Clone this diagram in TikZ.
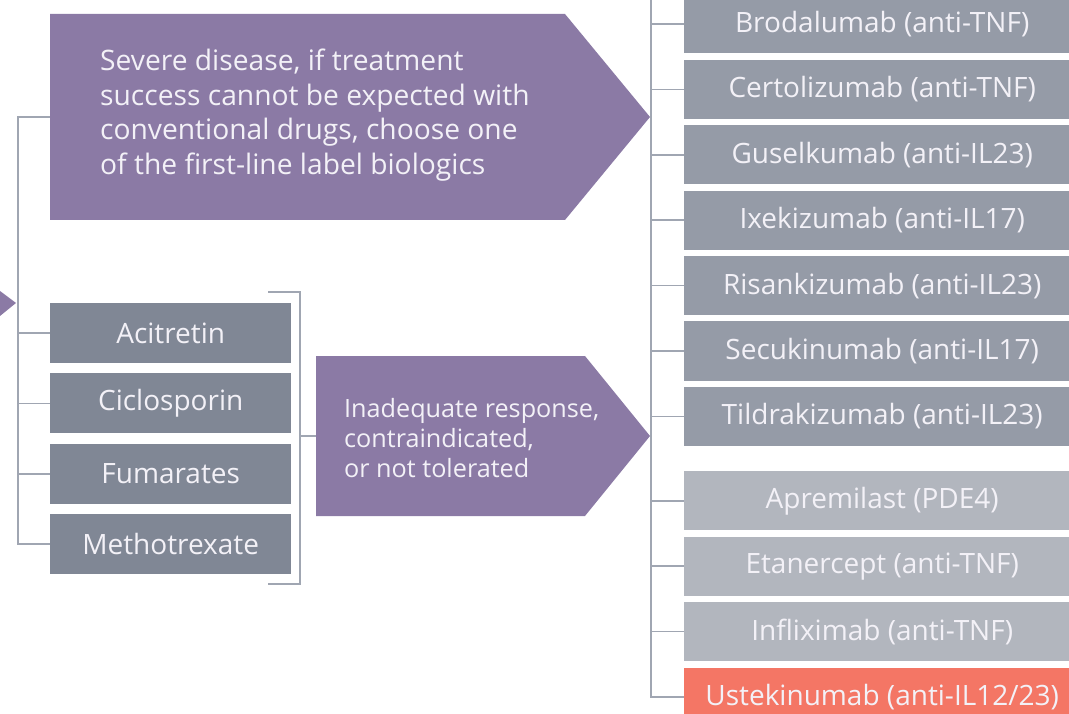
\documentclass[tikz,border=0pt]{standalone}
\usepackage{fontspec}
\setmainfont{Open Sans}
\usetikzlibrary{positioning}
\definecolor{psoviolet}{RGB}{139,122,165}
\definecolor{convgray}{RGB}{128,135,149}
\definecolor{biogray}{RGB}{149,155,167}
\definecolor{biolight}{RGB}{178,182,190}
\definecolor{biored}{RGB}{244,118,101}
\definecolor{linkgray}{RGB}{160,166,178}
\definecolor{txtwhite}{RGB}{243,241,247}

\begin{document}
\begin{tikzpicture}[x=1pt, y=-1pt,
    link/.style={draw=linkgray, line width=1.5pt},
    conv/.style={fill=convgray, text=txtwhite, minimum width=241pt, minimum height=60pt,
      inner sep=0pt, font=\fontsize{28}{33}\selectfont},
    bio/.style={fill=biogray, text=txtwhite, minimum width=396pt, minimum height=59pt,
      inner sep=0pt, font=\fontsize{28}{33}\selectfont},
    bio2/.style={bio, fill=biolight},
    note/.style={text=txtwhite, align=left, inner sep=0pt, anchor=north west}]
  \useasboundingbox (0,0) rectangle (1069,714);
  \clip (0,0) rectangle (1069,714);

  % incoming arrow and the two decision arrows
  \fill[psoviolet] (0,291) -- (16,303) -- (0,316) -- cycle;
  \fill[psoviolet] (50,14) -- (565,14) -- (650,117) -- (565,220) -- (50,220) -- cycle;
  \fill[psoviolet] (316,356) -- (585,356) -- (650,436) -- (585,516) -- (316,516) -- cycle;
  \coordinate (sev) at (50,117);
  \coordinate (inad) at (316,436);
  \node[note, font=\fontsize{28.2}{34.5}\selectfont] (sevtxt) at (100,49)
    {Severe disease, if treatment\\success cannot be expected with\\conventional drugs, choose one\\of the first-line label biologics};
  \node[note, font=\fontsize{25.2}{30}\selectfont] (inadtxt) at (344,398)
    {Inadequate response,\\contraindicated,\\or not tolerated};

  % conventional drugs
  \node[conv, anchor=west] (aci) at (50,333) {Acitretin};
  \node[conv, below=10pt of aci] (cic) {Ciclosporin};
  \node[conv, below=10pt of cic] (fum) {Fumarates};
  \node[conv, below=10pt of fum] (mtx) {Methotrexate};

  % biologics
  \node[bio, anchor=west] (bro) at (684,24) {Brodalumab (anti-TNF)};
  \node[bio, below=6pt of bro] (cer) {Certolizumab (anti-TNF)};
  \node[bio, below=6pt of cer] (gus) {Guselkumab (anti-IL23)};
  \node[bio, below=6pt of gus] (ixe) {Ixekizumab (anti-IL17)};
  \node[bio, below=6pt of ixe] (ris) {Risankizumab (anti-IL23)};
  \node[bio, below=6pt of ris] (sec) {Secukinumab (anti-IL17)};
  \node[bio, below=6pt of sec] (til) {Tildrakizumab (anti-IL23)};
  \node[bio2, below=25pt of til] (apr) {Apremilast (PDE4)};
  \node[bio2, below=6pt of apr] (eta) {Etanercept (anti-TNF)};
  \node[bio2, below=6pt of eta] (inf) {Infliximab (anti-TNF)};
  \node[bio, fill=biored, below=6pt of inf] (ust) {Ustekinumab (anti-IL12/23)};

  % left tree
  \coordinate (lsp) at (18,0);
  \draw[link] (sev) -| (lsp |- mtx.west) -- (mtx.west);
  \foreach \n in {aci,cic,fum}
    \draw[link] (\n.west) -- (\n.west -| lsp);

  % bracket round the conventional drugs
  \coordinate (brt) at (268,292);
  \coordinate (brb) at (268,584);
  \coordinate (brx) at (300,436);
  \draw[link] (brt) -- (brt -| brx) -- (brb -| brx) -- (brb);
  \draw[link] (brx) -- (inad);

  % right tree
  \coordinate (rsp) at (651,0);
  \draw[link] (rsp) -- (rsp |- ust.west) -- (ust.west);
  \foreach \n in {bro,cer,gus,ixe,ris,sec,til,apr,eta,inf}
    \draw[link] (\n.west -| rsp) -- (\n.west);
\end{tikzpicture}
\end{document}
